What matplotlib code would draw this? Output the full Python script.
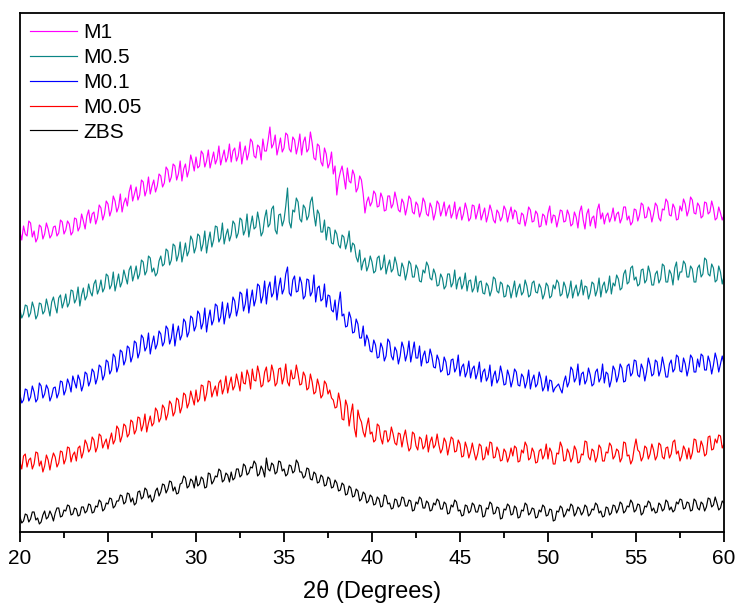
import numpy as np
import matplotlib.pyplot as plt

plt.rcParams['font.family'] = ['Liberation Sans', 'DejaVu Sans']

# 2theta grid, 0.1 deg step (20 .. 60)
two_theta = np.round(np.arange(20, 60.001, 0.1), 1)

# intensities (arb. units, already offset for stacking)
m1 = [300, 292, 306, 298, 296, 311, 309, 295, 301, 290, 294, 307, 305, 293, 298, 309, 303, 294, 297, 305,
      306, 296, 299, 312, 310, 298, 302, 311, 308, 297, 300, 314, 313, 301, 305, 318, 311, 303, 316, 322,
      309, 318, 320, 308, 314, 327, 324, 312, 318, 331, 328, 316, 322, 336, 331, 320, 325, 338, 320, 329,
      334, 326, 340, 347, 331, 338, 345, 332, 337, 352, 350, 336, 342, 355, 338, 346, 352, 340, 346, 358,
      356, 345, 349, 365, 362, 350, 355, 368, 366, 352, 358, 371, 351, 363, 368, 355, 362, 377, 370, 361,
      375, 364, 366, 381, 378, 365, 371, 382, 364, 372, 380, 368, 373, 386, 367, 375, 382, 370, 375, 388,
      370, 381, 384, 371, 376, 390, 368, 379, 386, 372, 379, 393, 390, 376, 374, 387, 385, 372, 393, 381,
      381, 392, 405, 384, 388, 397, 377, 385, 394, 380, 384, 399, 397, 383, 380, 395, 392, 378, 386, 398,
      377, 390, 395, 380, 383, 400, 389, 374, 372, 388, 386, 370, 366, 384, 378, 364, 369, 380, 358, 366,
      337, 352, 360, 366, 355, 343, 364, 351, 349, 362, 357, 340, 344, 356, 352, 338, 319, 330, 335, 326,
      330, 341, 338, 325, 326, 339, 334, 321, 322, 336, 336, 324, 328, 340, 332, 322, 320, 333, 329, 317,
      325, 336, 333, 320, 318, 330, 327, 315, 321, 334, 330, 318, 316, 329, 324, 312, 319, 331, 328, 316,
      322, 330, 316, 323, 327, 314, 319, 330, 313, 321, 325, 312, 318, 329, 322, 311, 314, 327, 326, 313,
      320, 328, 312, 318, 324, 310, 317, 327, 321, 312, 309, 322, 319, 311, 315, 326, 322, 310, 318, 325,
      313, 322, 320, 309, 308, 319, 317, 306, 314, 325, 322, 310, 311, 321, 318, 305, 306, 318, 316, 307,
      319, 326, 309, 317, 316, 305, 313, 322, 321, 310, 311, 322, 317, 306, 308, 320, 315, 304, 320, 326,
      312, 303, 318, 323, 306, 314, 316, 304, 322, 328, 313, 319, 308, 316, 319, 310, 315, 324, 311, 318,
      320, 309, 314, 325, 325, 312, 316, 307, 310, 323, 322, 311, 317, 329, 327, 314, 315, 325, 321, 310,
      318, 329, 326, 314, 311, 323, 322, 333, 330, 317, 316, 328, 324, 312, 313, 326, 321, 333, 328, 316,
      322, 335, 332, 319, 318, 329, 326, 314, 316, 330, 329, 318, 320, 331, 324, 312, 314, 325, 319, 312, 317]

m05 = [222, 214, 218, 227, 226, 215, 219, 230, 224, 213, 217, 229, 228, 218, 221, 233, 225, 216, 230, 235,
       226, 219, 234, 237, 224, 230, 238, 225, 229, 242, 241, 229, 233, 245, 226, 237, 244, 232, 236, 248,
       240, 236, 248, 252, 238, 243, 252, 240, 244, 258, 256, 243, 247, 260, 241, 249, 258, 245, 250, 262,
       255, 248, 262, 266, 251, 258, 266, 253, 258, 272, 270, 257, 261, 276, 274, 260, 264, 256, 259, 271,
       276, 266, 268, 283, 281, 267, 272, 288, 286, 271, 277, 290, 270, 279, 289, 276, 281, 296, 292, 279,
       285, 298, 296, 281, 288, 301, 279, 291, 300, 285, 292, 306, 305, 290, 294, 309, 288, 297, 303, 291,
       297, 311, 308, 294, 299, 314, 312, 297, 302, 318, 295, 306, 316, 303, 305, 320, 310, 296, 300, 314,
       322, 305, 308, 323, 326, 302, 298, 317, 318, 306, 312, 326, 344, 310, 304, 322, 320, 334, 330, 313,
       310, 327, 324, 312, 316, 330, 335, 318, 306, 322, 318, 300, 300, 312, 292, 305, 304, 289, 288, 302,
       298, 287, 284, 297, 295, 283, 290, 301, 280, 289, 287, 275, 270, 282, 262, 270, 274, 261, 266, 276,
       270, 259, 261, 274, 276, 262, 265, 277, 258, 266, 272, 260, 263, 275, 268, 257, 256, 269, 264, 252,
       260, 271, 268, 255, 255, 267, 263, 251, 250, 262, 259, 270, 266, 254, 252, 263, 258, 246, 247, 258,
       254, 243, 246, 258, 258, 245, 249, 262, 243, 252, 255, 243, 248, 259, 241, 251, 252, 240, 244, 256,
       240, 250, 251, 239, 238, 249, 246, 236, 242, 255, 253, 241, 239, 250, 248, 235, 236, 247, 245, 234,
       242, 251, 235, 243, 248, 237, 240, 252, 246, 235, 237, 249, 251, 240, 239, 248, 244, 233, 238, 249,
       246, 234, 236, 247, 243, 252, 249, 236, 238, 250, 245, 234, 240, 251, 234, 242, 247, 236, 241, 252,
       237, 246, 245, 233, 239, 250, 248, 236, 242, 254, 235, 246, 250, 239, 243, 256, 238, 249, 246, 257,
       253, 242, 244, 258, 262, 248, 250, 264, 266, 252, 255, 246, 248, 262, 263, 249, 252, 266, 259, 247,
       247, 258, 261, 249, 253, 268, 266, 250, 250, 262, 258, 247, 264, 270, 252, 260, 260, 271, 268, 255,
       255, 266, 263, 250, 250, 264, 267, 255, 258, 274, 272, 258, 256, 268, 264, 250, 252, 266, 260, 248, 256]

m01 = [137, 129, 132, 143, 142, 131, 135, 146, 140, 130, 133, 149, 146, 134, 138, 147, 143, 131, 136, 144,
       145, 134, 139, 151, 150, 137, 142, 153, 148, 140, 156, 150, 144, 157, 152, 141, 147, 160, 158, 146,
       151, 163, 160, 148, 154, 167, 165, 152, 157, 172, 170, 158, 162, 178, 175, 160, 166, 182, 180, 167,
       172, 186, 184, 170, 176, 191, 189, 174, 180, 197, 194, 181, 185, 199, 178, 188, 196, 183, 188, 201,
       198, 186, 190, 206, 203, 188, 194, 208, 186, 198, 206, 192, 197, 213, 210, 195, 200, 216, 214, 201,
       206, 221, 218, 203, 209, 224, 200, 213, 222, 207, 212, 228, 226, 210, 215, 230, 208, 219, 229, 214,
       220, 235, 231, 216, 224, 240, 238, 221, 228, 243, 219, 232, 242, 226, 233, 248, 246, 229, 236, 251,
       228, 244, 250, 235, 239, 256, 232, 245, 254, 238, 243, 258, 265, 239, 236, 252, 256, 240, 241, 255,
       249, 233, 236, 253, 252, 236, 240, 257, 230, 244, 246, 231, 233, 248, 225, 237, 236, 222, 220, 232,
       212, 228, 240, 216, 218, 205, 206, 220, 214, 199, 200, 213, 208, 194, 194, 206, 186, 197, 192, 181,
       180, 192, 187, 174, 175, 189, 184, 171, 176, 193, 190, 176, 172, 185, 181, 168, 176, 190, 184, 171,
       178, 191, 170, 180, 190, 174, 174, 186, 166, 176, 181, 169, 170, 183, 176, 165, 164, 177, 172, 160,
       162, 175, 170, 157, 158, 172, 173, 160, 164, 177, 156, 165, 168, 155, 160, 171, 154, 163, 166, 153,
       159, 170, 150, 160, 163, 151, 155, 167, 146, 156, 161, 149, 153, 166, 158, 147, 148, 162, 156, 145,
       152, 163, 160, 147, 146, 158, 155, 144, 150, 162, 143, 152, 157, 145, 148, 160, 153, 141, 145, 156,
       141, 152, 151, 140, 144, 146, 148, 143, 139, 150, 156, 145, 150, 165, 162, 150, 154, 168, 147, 158,
       160, 148, 152, 164, 157, 146, 148, 160, 163, 150, 154, 168, 149, 160, 158, 145, 152, 166, 162, 150,
       156, 168, 164, 150, 151, 166, 168, 156, 159, 172, 171, 157, 155, 168, 163, 151, 160, 174, 167, 156,
       158, 172, 170, 156, 162, 175, 166, 155, 155, 168, 172, 160, 163, 177, 175, 161, 160, 174, 168, 156,
       164, 177, 174, 160, 160, 173, 165, 178, 176, 162, 162, 176, 170, 158, 167, 179, 172, 160, 168, 176, 168]

m005 = [70, 63, 76, 78, 65, 72, 74, 63, 68, 80, 79, 66, 71, 60, 66, 77, 72, 62, 72, 79,
        75, 65, 69, 81, 80, 68, 73, 85, 84, 70, 77, 80, 71, 84, 86, 74, 80, 92, 88, 80,
        83, 95, 92, 80, 85, 98, 96, 84, 89, 93, 83, 92, 99, 88, 92, 106, 103, 90, 96, 108,
        106, 95, 98, 112, 110, 98, 102, 115, 114, 101, 107, 118, 100, 109, 116, 106, 109, 124, 121, 110,
        114, 127, 124, 112, 118, 131, 128, 116, 120, 134, 132, 119, 125, 139, 137, 124, 129, 141, 134, 127,
        142, 130, 133, 147, 146, 131, 138, 151, 150, 135, 141, 146, 136, 149, 152, 138, 144, 156, 139, 148,
        155, 142, 146, 158, 150, 141, 160, 149, 148, 162, 156, 143, 163, 152, 151, 166, 158, 145, 147, 160,
        165, 150, 152, 167, 160, 146, 149, 163, 164, 148, 155, 168, 150, 146, 162, 153, 154, 167, 158, 147,
        148, 160, 156, 142, 144, 158, 150, 138, 140, 153, 146, 134, 137, 151, 148, 138, 142, 134, 132, 124,
        125, 139, 130, 113, 112, 132, 126, 106, 118, 128, 104, 95, 122, 114, 110, 100, 95, 106, 114, 98,
        100, 90, 92, 108, 106, 94, 88, 101, 101, 90, 93, 105, 98, 89, 87, 99, 98, 85, 95, 102,
        90, 81, 84, 100, 98, 86, 82, 95, 93, 83, 86, 97, 80, 90, 95, 84, 87, 98, 87, 79,
        83, 94, 90, 77, 86, 95, 93, 80, 81, 92, 88, 75, 76, 90, 84, 74, 80, 89, 80, 72,
        78, 88, 86, 72, 74, 85, 77, 90, 89, 74, 75, 85, 81, 71, 72, 83, 80, 70, 75, 84,
        76, 86, 84, 70, 71, 82, 79, 90, 86, 72, 74, 84, 80, 69, 70, 81, 83, 73, 77, 88,
        73, 84, 80, 68, 68, 79, 78, 90, 85, 71, 72, 83, 79, 70, 74, 86, 82, 69, 70, 78,
        77, 91, 90, 75, 72, 83, 81, 70, 75, 87, 84, 71, 71, 80, 79, 89, 86, 73, 76, 83,
        81, 70, 74, 90, 89, 76, 77, 68, 72, 84, 93, 82, 80, 71, 75, 86, 84, 73, 78, 88,
        82, 72, 76, 89, 87, 75, 73, 84, 85, 74, 78, 90, 92, 78, 81, 71, 76, 86, 82, 73,
        84, 73, 79, 93, 92, 80, 80, 91, 86, 76, 78, 95, 96, 82, 83, 93, 89, 97, 96, 84, 88]

zbs = [15, 9, 11, 18, 17, 10, 13, 20, 20, 12, 14, 8, 10, 17, 21, 13, 15, 21, 17, 11,
       19, 24, 24, 15, 16, 22, 21, 27, 26, 17, 18, 24, 23, 16, 17, 25, 25, 19, 21, 28,
       27, 19, 20, 26, 25, 32, 30, 21, 23, 29, 28, 34, 33, 24, 26, 31, 31, 37, 36, 28,
       30, 39, 38, 30, 34, 27, 29, 40, 41, 33, 35, 44, 42, 34, 37, 30, 33, 41, 44, 36,
       40, 48, 47, 39, 43, 51, 50, 41, 45, 38, 39, 48, 49, 56, 54, 44, 46, 53, 51, 44,
       56, 46, 48, 55, 53, 44, 45, 59, 58, 48, 51, 56, 55, 63, 61, 50, 52, 59, 57, 50,
       60, 52, 54, 63, 63, 55, 57, 68, 66, 57, 59, 65, 64, 71, 68, 56, 58, 66, 62, 55,
       74, 63, 61, 69, 67, 58, 60, 71, 70, 61, 63, 56, 58, 67, 66, 59, 61, 72, 69, 60,
       60, 54, 56, 64, 63, 53, 52, 60, 58, 49, 50, 57, 55, 46, 47, 55, 53, 44, 45, 52,
       49, 41, 42, 49, 47, 37, 38, 46, 44, 35, 36, 43, 41, 31, 33, 40, 38, 29, 31, 37,
       35, 27, 28, 35, 33, 25, 26, 37, 36, 28, 29, 23, 24, 33, 32, 25, 27, 35, 34, 26,
       26, 32, 31, 21, 22, 30, 28, 35, 33, 24, 24, 31, 29, 21, 22, 29, 27, 33, 31, 23,
       23, 30, 28, 18, 19, 27, 25, 32, 30, 21, 22, 16, 17, 27, 26, 19, 21, 29, 27, 20,
       20, 27, 26, 15, 16, 24, 23, 30, 28, 18, 19, 25, 24, 13, 14, 23, 22, 28, 26, 17,
       18, 26, 24, 14, 15, 22, 21, 29, 27, 17, 19, 24, 23, 14, 15, 22, 20, 27, 25, 16,
       17, 23, 22, 11, 12, 21, 20, 26, 24, 15, 18, 23, 21, 28, 26, 16, 19, 25, 23, 17,
       20, 27, 25, 16, 18, 23, 22, 29, 27, 19, 21, 15, 16, 25, 24, 17, 19, 27, 26, 19,
       23, 30, 28, 19, 21, 26, 25, 32, 29, 20, 22, 28, 27, 17, 19, 26, 25, 31, 29, 21,
       24, 19, 20, 29, 27, 21, 23, 32, 30, 22, 25, 20, 22, 30, 28, 33, 32, 23, 24, 30,
       29, 21, 22, 33, 31, 24, 22, 30, 28, 21, 25, 34, 33, 25, 27, 35, 29, 22, 24, 31, 29]

labels = ['M1', 'M0.5', 'M0.1', 'M0.05', 'ZBS']
colors = ['#ff00ff', '#0b8585', '#0000ff', '#ff0000', '#000000']
series = [m1, m05, m01, m005, zbs]
assert all(len(s) == len(two_theta) for s in series), [len(s) for s in series]

fig = plt.figure(figsize=(7.38, 6.10), dpi=100)
ax = fig.add_axes([20 / 738, 1 - 532 / 610, 704 / 738, 519 / 610])

for y, lab, c in zip(series, labels, colors):
    ax.plot(two_theta, y, color=c, lw=0.85, label=lab)

ax.set_xlim(20, 60)
ax.set_ylim(0, 519)
ax.set_xticks(np.arange(20, 61, 5))
ax.set_xticks(np.arange(22.5, 60, 5), minor=True)
ax.set_yticks([])
ax.tick_params(axis='x', which='major', direction='out', length=7, width=1.3,
               labelsize=15, pad=5)
ax.tick_params(axis='x', which='minor', direction='out', length=4, width=1.3)
for s in ax.spines.values():
    s.set_linewidth(1.3)

ax.set_xlabel('2\u03b8 (Degrees)', fontsize=17, labelpad=9)

ax.legend(loc='upper left', frameon=False, fontsize=15, handlelength=2.25,
          handletextpad=0.3, labelspacing=0.28, borderaxespad=0.2,
          borderpad=0.3)

fig.savefig('out.png', dpi=100)
